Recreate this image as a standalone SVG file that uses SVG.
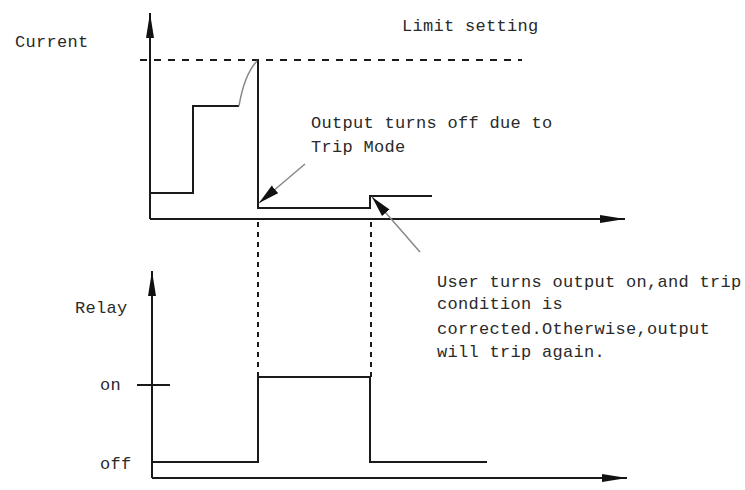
<svg xmlns="http://www.w3.org/2000/svg" width="745" height="490" viewBox="0 0 745 490">
<style>
.t{font-family:"Liberation Mono","DejaVu Sans Mono",monospace;font-size:17px;letter-spacing:0.3px;fill:#2a2a2a}
.ln{fill:none;stroke:#1a1a1a;stroke-width:2}
.ax{fill:none;stroke:#1a1a1a;stroke-width:2}
.dash{fill:none;stroke:#1a1a1a;stroke-width:2;stroke-dasharray:7 7}
.dot{fill:none;stroke:#1a1a1a;stroke-width:2;stroke-dasharray:5 5}
.gr{fill:none;stroke:#888;stroke-width:1.5}
</style>
<defs>
<marker id="ah" markerWidth="26" markerHeight="10" refX="25" refY="5" orient="auto" markerUnits="userSpaceOnUse">
<path d="M0,1 L25,5 L0,9 Z" fill="#111"/>
</marker>
<marker id="pt" markerWidth="22" markerHeight="12" refX="21" refY="6" orient="auto" markerUnits="userSpaceOnUse">
<path d="M0,1 L21,6 L0,11 Z" fill="#111"/>
</marker>
</defs>
<rect width="745" height="490" fill="#fff"/>
<g id="current-chart">
<path class="ax" d="M150,219 L150,13" marker-end="url(#ah)"/>
<path class="ax" d="M150,219 L625,219" marker-end="url(#ah)"/>
<path class="dash" d="M140,60 L522,60"/>
<path class="ln" d="M150,193 L193,193 L193,106 L239,106"/>
<path class="gr" d="M239,106 C242,88 248,70 258,60"/>
<path class="ln" d="M258,60 L258,208 L370,208 L370,196 L432,196"/>
</g>
<g id="relay-chart">
<path class="ax" d="M152,478 L152,271" marker-end="url(#ah)"/>
<path class="ax" d="M152,478 L627,478" marker-end="url(#ah)"/>
<path class="ln" d="M137,385 L170,385"/>
<path class="ln" d="M152,462 L258,462 L258,377 L370,377 L370,462 L487,462"/>
</g>
<g id="connectors">
<path class="dot" d="M258,222 L258,377"/>
<path class="dot" d="M371,222 L371,377"/>
<path class="gr" d="M305,164 L259,203" marker-end="url(#pt)"/>
<path class="gr" d="M420,252 L372,197" marker-end="url(#pt)"/>
</g>
<g id="labels">
<text class="t" x="15" y="47">Current</text>
<text class="t" x="402" y="31">Limit setting</text>
<text class="t" x="311" y="128">Output turns off due to</text>
<text class="t" x="311" y="152">Trip Mode</text>
<text class="t" x="437" y="287">User turns output on,and trip</text>
<text class="t" x="437" y="309">condition is</text>
<text class="t" x="437" y="334">corrected.Otherwise,output</text>
<text class="t" x="437" y="357">will trip again.</text>
<text class="t" x="75" y="313">Relay</text>
<text class="t" x="100" y="390">on</text>
<text class="t" x="100" y="469">off</text>
</g>
</svg>
